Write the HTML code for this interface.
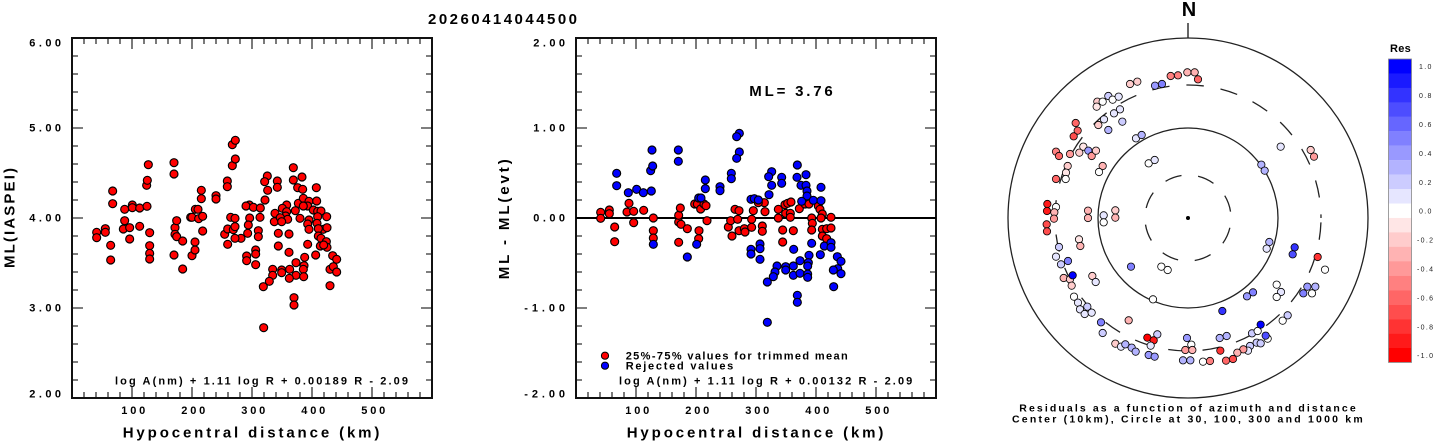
<!DOCTYPE html>
<html><head><meta charset="utf-8">
<style>
html,body{margin:0;padding:0;background:#fff;}
svg{display:block;}
text{font-family:"Liberation Sans",Arial,sans-serif;font-weight:bold;fill:#000;}
.b10{fill:#0000ff}.b9{fill:#1a1aff}.b8{fill:#3333ff}.b7{fill:#4d4dff}.b6{fill:#6666ff}.b5{fill:#8080ff}.b4{fill:#9999ff}.b3{fill:#b3b3ff}.b2{fill:#ccccff}.b1{fill:#e6e6ff}.w{fill:#ffffff}
.r1{fill:#ffe6e6}.r2{fill:#ffcccc}.r3{fill:#ffb3b3}.r4{fill:#ff9999}.r5{fill:#ff8080}.r6{fill:#ff6666}.r7{fill:#ff4d4d}.r8{fill:#ff3333}.r9{fill:#ff1a1a}.r10{fill:#ff0000}
.cl{font-weight:normal;fill:#222;}
</style></head>
<body>
<svg width="1437" height="441" viewBox="0 0 1437 441" xmlns="http://www.w3.org/2000/svg">
<defs>
<g id="axes">
<path d="M72 56h6M72 74h6M72 92h6M72 110h6M72 128h11M72 146h6M72 164h6M72 182h6M72 200h6M72 218h11M72 236h6M72 254h6M72 272h6M72 290h6M72 308h11M72 326h6M72 344h6M72 362h6M72 380h6
M432 56h-6M432 74h-6M432 92h-6M432 110h-6M432 128h-11M432 146h-6M432 164h-6M432 182h-6M432 200h-6M432 218h-11M432 236h-6M432 254h-6M432 272h-6M432 290h-6M432 308h-11M432 326h-6M432 344h-6M432 362h-6M432 380h-6
M84 398v-6M96 398v-6M108 398v-6M120 398v-6M132 398v-11M144 398v-6M156 398v-6M168 398v-6M180 398v-6M192 398v-11M204 398v-6M216 398v-6M228 398v-6M240 398v-6M252 398v-11M264 398v-6M276 398v-6M288 398v-6M300 398v-6M312 398v-11M324 398v-6M336 398v-6M348 398v-6M360 398v-6M372 398v-11M384 398v-6M396 398v-6M408 398v-6M420 398v-6
M84 38v6M96 38v6M108 38v6M120 38v6M132 38v11M144 38v6M156 38v6M168 38v6M180 38v6M192 38v11M204 38v6M216 38v6M228 38v6M240 38v6M252 38v11M264 38v6M276 38v6M288 38v6M300 38v6M312 38v11M324 38v6M336 38v6M348 38v6M360 38v6M372 38v11M384 38v6M396 38v6M408 38v6M420 38v6" stroke="#333" stroke-width="1.3" fill="none"/>
<rect x="72" y="38" width="360" height="360" fill="none" stroke="#111" stroke-width="2"/>
</g>
</defs>

<!-- Title -->
<text x="428" y="24" font-size="15" textLength="149" lengthAdjust="spacing">20260414044500</text>

<!-- LEFT PLOT -->
<use href="#axes"/>
<g font-size="11">
<text x="29.3" y="46.7" textLength="31.7" lengthAdjust="spacing">6.00</text>
<text x="29.3" y="131.7" textLength="31.7" lengthAdjust="spacing">5.00</text>
<text x="29.3" y="221.7" textLength="31.7" lengthAdjust="spacing">4.00</text>
<text x="29.3" y="311.6" textLength="31.7" lengthAdjust="spacing">3.00</text>
<text x="29.3" y="397.7" textLength="31.7" lengthAdjust="spacing">2.00</text>
<text x="121.3" y="414" textLength="24" lengthAdjust="spacing">100</text>
<text x="181.3" y="414" textLength="24" lengthAdjust="spacing">200</text>
<text x="241.3" y="414" textLength="24" lengthAdjust="spacing">300</text>
<text x="301.3" y="414" textLength="24" lengthAdjust="spacing">400</text>
<text x="361.3" y="414" textLength="24" lengthAdjust="spacing">500</text>
<text x="115" y="384.3" textLength="293" lengthAdjust="spacing">log A(nm) + 1.11 log R + 0.00189 R - 2.09</text>
</g>
<text x="122.7" y="437.3" font-size="15" textLength="256.7" lengthAdjust="spacing">Hypocentral distance (km)</text>
<text transform="translate(14.5,268) rotate(-90)" x="0" y="0" font-size="15" textLength="100" lengthAdjust="spacing">ML(IASPEI)</text>

<g transform="scale(0.333333)" fill="#ff0000" stroke="#000" stroke-width="3.4">
<circle cx="290" cy="697" r="12"/><circle cx="290" cy="713" r="12"/><circle cx="316" cy="686" r="12"/><circle cx="316" cy="697" r="12"/><circle cx="332" cy="736" r="12"/><circle cx="332" cy="780" r="12"/><circle cx="338" cy="573" r="12"/><circle cx="338" cy="611" r="12"/><circle cx="370" cy="687" r="12"/><circle cx="374" cy="628" r="12"/><circle cx="374" cy="662" r="12"/><circle cx="389" cy="683" r="12"/><circle cx="389" cy="717" r="12"/><circle cx="397" cy="615" r="12"/><circle cx="397" cy="623" r="12"/><circle cx="419" cy="624" r="12"/><circle cx="419" cy="679" r="12"/><circle cx="440" cy="556" r="12"/><circle cx="442" cy="541" r="12"/><circle cx="445" cy="494" r="12"/><circle cx="441" cy="619" r="12"/><circle cx="449" cy="698" r="12"/><circle cx="449" cy="737" r="12"/><circle cx="449" cy="760" r="12"/><circle cx="449" cy="777" r="12"/><circle cx="522" cy="488" r="12"/><circle cx="522" cy="522" r="12"/><circle cx="525" cy="683" r="12"/><circle cx="525" cy="703" r="12"/><circle cx="522" cy="765" r="12"/><circle cx="530" cy="662" r="12"/><circle cx="530" cy="710" r="12"/><circle cx="548" cy="723" r="12"/><circle cx="548" cy="807" r="12"/><circle cx="572" cy="652" r="12"/><circle cx="576" cy="652" r="12"/><circle cx="576" cy="767" r="12"/><circle cx="585" cy="726" r="12"/><circle cx="585" cy="750" r="12"/><circle cx="586" cy="628" r="12"/><circle cx="594" cy="628" r="12"/><circle cx="596" cy="656" r="12"/><circle cx="604" cy="571" r="12"/><circle cx="604" cy="596" r="12"/><circle cx="608" cy="649" r="12"/><circle cx="608" cy="693" r="12"/><circle cx="648" cy="587" r="12"/><circle cx="648" cy="597" r="12"/><circle cx="674" cy="703" r="12"/><circle cx="683" cy="687" r="12"/><circle cx="683" cy="733" r="12"/><circle cx="682" cy="543" r="12"/><circle cx="682" cy="560" r="12"/><circle cx="692" cy="652" r="12"/><circle cx="700" cy="689" r="12"/><circle cx="697" cy="497" r="12"/><circle cx="697" cy="434" r="12"/><circle cx="706" cy="421" r="12"/><circle cx="706" cy="477" r="12"/>
<circle cx="880" cy="503" r="12"/><circle cx="802" cy="528" r="12"/><circle cx="794" cy="545" r="12"/><circle cx="832" cy="543" r="12"/><circle cx="832" cy="562" r="12"/><circle cx="880" cy="540" r="12"/><circle cx="906" cy="531" r="12"/><circle cx="893" cy="563" r="12"/><circle cx="908" cy="568" r="12"/><circle cx="949" cy="563" r="12"/><circle cx="803" cy="571" r="12"/><circle cx="795" cy="600" r="12"/><circle cx="748" cy="615" r="12"/><circle cx="738" cy="618" r="12"/><circle cx="760" cy="622" r="12"/><circle cx="781" cy="624" r="12"/><circle cx="860" cy="615" r="12"/><circle cx="847" cy="625" r="12"/><circle cx="895" cy="610" r="12"/><circle cx="910" cy="595" r="12"/><circle cx="927" cy="604" r="12"/><circle cx="950" cy="603" r="12"/><circle cx="923" cy="618" r="12"/><circle cx="910" cy="618" r="12"/><circle cx="940" cy="630" r="12"/><circle cx="953" cy="634" r="12"/><circle cx="963" cy="633" r="12"/><circle cx="780" cy="652" r="12"/><circle cx="749" cy="654" r="12"/><circle cx="825" cy="640" r="12"/><circle cx="823" cy="665" r="12"/><circle cx="860" cy="635" r="12"/><circle cx="857" cy="648" r="12"/><circle cx="841" cy="653" r="12"/><circle cx="863" cy="658" r="12"/><circle cx="845" cy="665" r="12"/><circle cx="886" cy="632" r="12"/><circle cx="900" cy="655" r="12"/><circle cx="927" cy="660" r="12"/><circle cx="953" cy="650" r="12"/><circle cx="951" cy="670" r="12"/><circle cx="980" cy="650" r="12"/><circle cx="745" cy="675" r="12"/><circle cx="923" cy="672" r="12"/><circle cx="927" cy="688" r="12"/><circle cx="970" cy="688" r="12"/><circle cx="981" cy="683" r="12"/><circle cx="955" cy="686" r="12"/><circle cx="705" cy="655" r="12"/><circle cx="705" cy="680" r="12"/><circle cx="723" cy="715" r="12"/><circle cx="705" cy="715" r="12"/><circle cx="743" cy="700" r="12"/><circle cx="775" cy="692" r="12"/><circle cx="775" cy="710" r="12"/><circle cx="835" cy="700" r="12"/><circle cx="867" cy="702" r="12"/><circle cx="955" cy="708" r="12"/><circle cx="963" cy="715" r="12"/><circle cx="979" cy="725" r="12"/><circle cx="981" cy="742" r="12"/><circle cx="961" cy="738" r="12"/><circle cx="971" cy="735" r="12"/><circle cx="923" cy="733" r="12"/><circle cx="835" cy="738" r="12"/><circle cx="767" cy="750" r="12"/><circle cx="767" cy="762" r="12"/><circle cx="867" cy="757" r="12"/><circle cx="947" cy="765" r="12"/><circle cx="998" cy="767" r="12"/><circle cx="1010" cy="778" r="12"/><circle cx="740" cy="768" r="12"/><circle cx="740" cy="782" r="12"/><circle cx="914" cy="772" r="12"/><circle cx="888" cy="788" r="12"/><circle cx="767" cy="794" r="12"/><circle cx="912" cy="797" r="12"/><circle cx="910" cy="808" r="12"/><circle cx="818" cy="808" r="12"/><circle cx="845" cy="810" r="12"/><circle cx="869" cy="808" r="12"/><circle cx="818" cy="826" r="12"/><circle cx="845" cy="818" r="12"/><circle cx="888" cy="826" r="12"/><circle cx="868" cy="835" r="12"/><circle cx="911" cy="830" r="12"/><circle cx="990" cy="808" r="12"/><circle cx="1000" cy="800" r="12"/><circle cx="1010" cy="816" r="12"/><circle cx="808" cy="844" r="12"/><circle cx="790" cy="860" r="12"/><circle cx="990" cy="857" r="12"/><circle cx="882" cy="893" r="12"/><circle cx="882" cy="915" r="12"/><circle cx="791" cy="983" r="12"/>
</g>

<!-- MIDDLE PLOT -->
<use href="#axes" transform="translate(504,0)"/>
<line x1="576" y1="218" x2="936" y2="218" stroke="#000" stroke-width="2"/>
<g font-size="11">
<text x="533.3" y="46.7" textLength="31.7" lengthAdjust="spacing">2.00</text>
<text x="533.3" y="131.7" textLength="31.7" lengthAdjust="spacing">1.00</text>
<text x="533.3" y="221.7" textLength="31.7" lengthAdjust="spacing">0.00</text>
<text x="524.3" y="311.6" textLength="40.7" lengthAdjust="spacing">-1.00</text>
<text x="524.3" y="397.7" textLength="40.7" lengthAdjust="spacing">-2.00</text>
<text x="625.3" y="414" textLength="24" lengthAdjust="spacing">100</text>
<text x="685.3" y="414" textLength="24" lengthAdjust="spacing">200</text>
<text x="745.3" y="414" textLength="24" lengthAdjust="spacing">300</text>
<text x="805.3" y="414" textLength="24" lengthAdjust="spacing">400</text>
<text x="865.3" y="414" textLength="24" lengthAdjust="spacing">500</text>
<text x="619" y="384.3" textLength="293.3" lengthAdjust="spacing">log A(nm) + 1.11 log R + 0.00132 R - 2.09</text>
<text x="625.7" y="359.3" textLength="222" lengthAdjust="spacing">25%-75% values for trimmed mean</text>
<text x="625.7" y="369.3" textLength="107.6" lengthAdjust="spacing">Rejected values</text>
</g>
<circle cx="605" cy="355.7" r="3.6" fill="#ff0000" stroke="#000" stroke-width="1"/>
<circle cx="605" cy="365.7" r="3.6" fill="#0000ff" stroke="#000" stroke-width="1"/>
<text x="749.3" y="96" font-size="15" textLength="83.4" lengthAdjust="spacing">ML= 3.76</text>
<text x="626.7" y="437.3" font-size="15" textLength="256.7" lengthAdjust="spacing">Hypocentral distance (km)</text>
<text transform="translate(509,279.3) rotate(-90)" x="0" y="0" font-size="15" textLength="120" lengthAdjust="spacing">ML - ML(evt)</text>

<g transform="translate(480,0) scale(0.333333)" stroke="#000" stroke-width="3.4">
<g fill="#ff0000">
<circle cx="362" cy="637" r="12"/><circle cx="362" cy="655" r="12"/><circle cx="388" cy="630" r="12"/><circle cx="388" cy="641" r="12"/><circle cx="404" cy="681" r="12"/><circle cx="404" cy="725" r="12"/><circle cx="441" cy="636" r="12"/><circle cx="447" cy="610" r="12"/><circle cx="461" cy="634" r="12"/><circle cx="461" cy="668" r="12"/><circle cx="491" cy="631" r="12"/><circle cx="520" cy="654" r="12"/><circle cx="520" cy="692" r="12"/><circle cx="520" cy="714" r="12"/><circle cx="596" cy="666" r="12"/><circle cx="596" cy="646" r="12"/><circle cx="596" cy="727" r="12"/><circle cx="601" cy="624" r="12"/><circle cx="603" cy="673" r="12"/><circle cx="622" cy="686" r="12"/><circle cx="644" cy="612" r="12"/><circle cx="652" cy="612" r="12"/><circle cx="656" cy="716" r="12"/><circle cx="657" cy="692" r="12"/><circle cx="662" cy="627" r="12"/><circle cx="672" cy="612" r="12"/><circle cx="678" cy="617" r="12"/><circle cx="681" cy="662" r="12"/><circle cx="745" cy="681" r="12"/><circle cx="752" cy="662" r="12"/><circle cx="756" cy="708" r="12"/>
<circle cx="765" cy="628" r="12"/><circle cx="777" cy="632" r="12"/><circle cx="773" cy="658" r="12"/><circle cx="777" cy="692" r="12"/><circle cx="793" cy="686" r="12"/><circle cx="795" cy="696" r="12"/><circle cx="815" cy="658" r="12"/><circle cx="815" cy="682" r="12"/><circle cx="820" cy="632" r="12"/><circle cx="847" cy="678" r="12"/><circle cx="847" cy="694" r="12"/><circle cx="853" cy="608" r="12"/><circle cx="855" cy="635" r="12"/><circle cx="835" cy="608" r="12"/><circle cx="895" cy="628" r="12"/><circle cx="895" cy="654" r="12"/><circle cx="908" cy="690" r="12"/><circle cx="908" cy="726" r="12"/><circle cx="915" cy="614" r="12"/><circle cx="923" cy="610" r="12"/><circle cx="933" cy="606" r="12"/><circle cx="917" cy="640" r="12"/><circle cx="931" cy="640" r="12"/><circle cx="931" cy="652" r="12"/><circle cx="940" cy="692" r="12"/><circle cx="958" cy="626" r="12"/><circle cx="975" cy="612" r="12"/><circle cx="987" cy="612" r="12"/><circle cx="995" cy="654" r="12"/><circle cx="997" cy="670" r="12"/><circle cx="995" cy="690" r="12"/><circle cx="1015" cy="618" r="12"/><circle cx="1020" cy="628" r="12"/><circle cx="1027" cy="642" r="12"/><circle cx="1023" cy="654" r="12"/><circle cx="1053" cy="652" r="12"/><circle cx="1027" cy="688" r="12"/><circle cx="1040" cy="686" r="12"/><circle cx="1053" cy="684" r="12"/><circle cx="1027" cy="708" r="12"/><circle cx="1040" cy="716" r="12"/>
</g>
<g fill="#0000ff">
<circle cx="410" cy="520" r="12"/><circle cx="410" cy="557" r="12"/><circle cx="445" cy="578" r="12"/><circle cx="470" cy="568" r="12"/><circle cx="490" cy="578" r="12"/><circle cx="514" cy="573" r="12"/><circle cx="512" cy="512" r="12"/><circle cx="516" cy="450" r="12"/><circle cx="518" cy="498" r="12"/><circle cx="520" cy="733" r="12"/><circle cx="595" cy="450" r="12"/><circle cx="595" cy="484" r="12"/><circle cx="622" cy="771" r="12"/><circle cx="650" cy="733" r="12"/><circle cx="656" cy="594" r="12"/><circle cx="663" cy="594" r="12"/><circle cx="676" cy="540" r="12"/><circle cx="676" cy="566" r="12"/><circle cx="720" cy="560" r="12"/><circle cx="720" cy="572" r="12"/><circle cx="754" cy="520" r="12"/><circle cx="754" cy="536" r="12"/><circle cx="778" cy="400" r="12"/><circle cx="770" cy="410" r="12"/><circle cx="778" cy="456" r="12"/><circle cx="770" cy="475" r="12"/>
<circle cx="952" cy="495" r="12"/><circle cx="875" cy="515" r="12"/><circle cx="866" cy="530" r="12"/><circle cx="905" cy="532" r="12"/><circle cx="905" cy="550" r="12"/><circle cx="951" cy="532" r="12"/><circle cx="978" cy="524" r="12"/><circle cx="875" cy="556" r="12"/><circle cx="963" cy="556" r="12"/><circle cx="978" cy="556" r="12"/><circle cx="1023" cy="562" r="12"/><circle cx="867" cy="584" r="12"/><circle cx="981" cy="573" r="12"/><circle cx="981" cy="588" r="12"/><circle cx="813" cy="598" r="12"/><circle cx="823" cy="596" r="12"/><circle cx="835" cy="600" r="12"/><circle cx="1000" cy="601" r="12"/><circle cx="965" cy="604" r="12"/><circle cx="1023" cy="602" r="12"/><circle cx="813" cy="748" r="12"/><circle cx="813" cy="762" r="12"/><circle cx="840" cy="732" r="12"/><circle cx="840" cy="746" r="12"/><circle cx="840" cy="778" r="12"/><circle cx="941" cy="748" r="12"/><circle cx="995" cy="730" r="12"/><circle cx="1033" cy="738" r="12"/><circle cx="1053" cy="728" r="12"/><circle cx="1053" cy="742" r="12"/><circle cx="1021" cy="764" r="12"/><circle cx="987" cy="766" r="12"/><circle cx="960" cy="782" r="12"/><circle cx="985" cy="788" r="12"/><circle cx="983" cy="798" r="12"/><circle cx="1072" cy="770" r="12"/><circle cx="1083" cy="784" r="12"/><circle cx="1073" cy="806" r="12"/><circle cx="1060" cy="810" r="12"/><circle cx="1083" cy="821" r="12"/><circle cx="1061" cy="860" r="12"/><circle cx="891" cy="798" r="12"/><circle cx="885" cy="816" r="12"/><circle cx="880" cy="830" r="12"/><circle cx="917" cy="800" r="12"/><circle cx="940" cy="798" r="12"/><circle cx="917" cy="810" r="12"/><circle cx="940" cy="826" r="12"/><circle cx="960" cy="820" r="12"/><circle cx="983" cy="822" r="12"/><circle cx="983" cy="832" r="12"/><circle cx="862" cy="846" r="12"/><circle cx="952" cy="886" r="12"/><circle cx="952" cy="907" r="12"/><circle cx="862" cy="967" r="12"/>
</g>
</g>

<!-- POLAR PLOT -->
<text x="1189" y="16" font-size="20" text-anchor="middle">N</text>
<line x1="1188" y1="23" x2="1188" y2="38" stroke="#333" stroke-width="1.5"/>
<g fill="none" stroke="#222" stroke-width="1.3">
<circle cx="1188" cy="218" r="180"/>
<circle cx="1188" cy="218" r="90"/>
<circle cx="1188" cy="218" r="133" stroke-dasharray="17.5 16.97" stroke-dashoffset="-4.4"/>
<circle cx="1188" cy="218" r="43" stroke-dasharray="17 16.77" stroke-dashoffset="-9.9"/>
</g>
<circle cx="1188" cy="218" r="2" fill="#000"/>

<g transform="translate(990,0) scale(0.333333)" stroke="#000" stroke-width="2.4">
<circle cx="542" cy="228" r="11" class="r5"/><circle cx="564" cy="226" r="11" class="r5"/><circle cx="592" cy="217" r="11" class="r3"/><circle cx="614" cy="217" r="11" class="r3"/><circle cx="624" cy="238" r="11" class="r6"/>
<circle cx="420" cy="252" r="11" class="r2"/><circle cx="442" cy="245" r="11" class="r2"/>
<circle cx="495" cy="257" r="11" class="b4"/><circle cx="516" cy="252" r="11" class="b5"/>
<circle cx="322" cy="305" r="11" class="r2"/><circle cx="338" cy="305" r="11" class="w"/><circle cx="355" cy="288" r="11" class="b2"/><circle cx="368" cy="299" r="11" class="w"/><circle cx="386" cy="290" r="11" class="b1"/><circle cx="320" cy="320" r="11" class="r1"/>
<circle cx="390" cy="328" r="11" class="b1"/><circle cx="372" cy="340" r="11" class="b1"/><circle cx="342" cy="358" r="11" class="b1"/><circle cx="325" cy="375" r="11" class="r2"/><circle cx="355" cy="390" r="11" class="b3"/><circle cx="397" cy="365" r="11" class="b2"/>
<circle cx="257" cy="369" r="11" class="r6"/><circle cx="263" cy="392" r="11" class="r6"/><circle cx="251" cy="409" r="11" class="r7"/>
<circle cx="438" cy="415" r="11" class="b1"/><circle cx="455" cy="405" r="11" class="b3"/>
<circle cx="198" cy="455" r="11" class="r5"/><circle cx="207" cy="468" r="11" class="r6"/><circle cx="240" cy="462" r="11" class="r4"/><circle cx="268" cy="458" r="11" class="r2"/><circle cx="280" cy="440" r="11" class="r1"/><circle cx="295" cy="452" r="11" class="b4"/><circle cx="305" cy="468" r="11" class="r4"/><circle cx="318" cy="452" r="11" class="r2"/>
<circle cx="233" cy="498" r="11" class="r2"/><circle cx="228" cy="518" r="11" class="r1"/><circle cx="198" cy="537" r="11" class="r6"/><circle cx="227" cy="537" r="11" class="w"/><circle cx="338" cy="498" r="11" class="r3"/><circle cx="327" cy="516" r="11" class="w"/>
<circle cx="476" cy="490" r="11" class="w"/><circle cx="494" cy="480" r="11" class="b1"/>
<circle cx="872" cy="440" r="11" class="b1"/>
<circle cx="962" cy="450" r="11" class="r2"/><circle cx="972" cy="470" r="11" class="r4"/>
<circle cx="814" cy="494" r="11" class="b3"/><circle cx="824" cy="512" r="11" class="b3"/>
<circle cx="172" cy="612" r="11" class="r9"/><circle cx="171" cy="633" r="11" class="r9"/><circle cx="198" cy="621" r="11" class="w"/><circle cx="193" cy="637" r="11" class="r3"/><circle cx="192" cy="656" r="11" class="r4"/><circle cx="170" cy="673" r="11" class="r7"/><circle cx="171" cy="694" r="11" class="r7"/>
<circle cx="294" cy="632" r="11" class="r3"/><circle cx="294" cy="654" r="11" class="r3"/><circle cx="341" cy="646" r="11" class="b1"/><circle cx="341" cy="667" r="11" class="w"/><circle cx="376" cy="631" r="11" class="r2"/><circle cx="376" cy="653" r="11" class="r3"/>
<circle cx="267" cy="718" r="11" class="r1"/><circle cx="271" cy="738" r="11" class="r3"/>
<circle cx="207" cy="741" r="11" class="b2"/><circle cx="198" cy="770" r="11" class="b1"/><circle cx="213" cy="793" r="11" class="b2"/><circle cx="234" cy="783" r="11" class="b5"/><circle cx="221" cy="834" r="11" class="r3"/><circle cx="240" cy="838" r="11" class="r2"/><circle cx="245" cy="857" r="11" class="r2"/><circle cx="248" cy="826" r="11" class="b10"/>
<circle cx="307" cy="828" r="11" class="r2"/><circle cx="317" cy="846" r="11" class="b1"/>
<circle cx="423" cy="800" r="11" class="b5"/>
<circle cx="514" cy="800" r="11" class="w"/><circle cx="533" cy="810" r="11" class="w"/>
<circle cx="838" cy="726" r="11" class="b3"/><circle cx="830" cy="746" r="11" class="b1"/>
<circle cx="914" cy="742" r="11" class="b8"/><circle cx="908" cy="763" r="11" class="b7"/>
<circle cx="983" cy="771" r="11" class="r8"/>
<circle cx="1005" cy="809" r="11" class="w"/>
<circle cx="860" cy="854" r="11" class="w"/><circle cx="873" cy="876" r="11" class="b1"/><circle cx="860" cy="891" r="11" class="w"/>
<circle cx="952" cy="860" r="11" class="b4"/><circle cx="976" cy="860" r="11" class="b3"/><circle cx="940" cy="880" r="11" class="b5"/><circle cx="966" cy="880" r="11" class="w"/>
<circle cx="789" cy="877" r="11" class="b5"/><circle cx="771" cy="889" r="11" class="b4"/>
<circle cx="489" cy="898" r="11" class="w"/>
<circle cx="252" cy="890" r="11" class="w"/><circle cx="264" cy="908" r="11" class="b1"/><circle cx="270" cy="928" r="11" class="b1"/><circle cx="292" cy="920" r="11" class="b2"/><circle cx="284" cy="942" r="11" class="b1"/><circle cx="305" cy="938" r="11" class="b1"/>
<circle cx="697" cy="933" r="11" class="b8"/>
<circle cx="893" cy="946" r="11" class="b2"/><circle cx="878" cy="962" r="11" class="w"/>
<circle cx="416" cy="961" r="11" class="r3"/>
<circle cx="333" cy="967" r="11" class="b5"/><circle cx="338" cy="999" r="11" class="b2"/>
<circle cx="786" cy="1000" r="11" class="b2"/><circle cx="803" cy="993" r="11" class="w"/><circle cx="833" cy="1016" r="11" class="w"/><circle cx="827" cy="1007" r="11" class="b7"/><circle cx="812" cy="974" r="11" class="b10"/><circle cx="800" cy="1028" r="11" class="b2"/><circle cx="812" cy="1030" r="11" class="b2"/><circle cx="780" cy="1038" r="11" class="b2"/><circle cx="774" cy="1052" r="11" class="b1"/><circle cx="760" cy="1048" r="11" class="r4"/><circle cx="742" cy="1058" r="11" class="r3"/><circle cx="729" cy="1077" r="11" class="r7"/><circle cx="708" cy="1082" r="11" class="r6"/>
<circle cx="502" cy="1003" r="11" class="b2"/><circle cx="472" cy="1013" r="11" class="r10"/><circle cx="491" cy="1021" r="11" class="r9"/><circle cx="482" cy="1037" r="11" class="b1"/><circle cx="476" cy="1065" r="11" class="b4"/><circle cx="494" cy="1070" r="11" class="b4"/>
<circle cx="376" cy="1031" r="11" class="r2"/><circle cx="393" cy="1040" r="11" class="b1"/><circle cx="406" cy="1033" r="11" class="b3"/><circle cx="425" cy="1043" r="11" class="b3"/><circle cx="437" cy="1055" r="11" class="b3"/>
<circle cx="591" cy="1014" r="11" class="b4"/><circle cx="604" cy="1034" r="11" class="w"/><circle cx="586" cy="1050" r="11" class="r4"/><circle cx="607" cy="1050" r="11" class="r3"/>
<circle cx="579" cy="1081" r="11" class="b3"/><circle cx="601" cy="1081" r="11" class="b3"/><circle cx="639" cy="1085" r="11" class="w"/><circle cx="660" cy="1083" r="11" class="r5"/>
<circle cx="691" cy="1052" r="11" class="r8"/>
<circle cx="689" cy="1014" r="11" class="b3"/><circle cx="710" cy="1008" r="11" class="b3"/>
</g>

<g font-size="10.5">
<text x="1019.3" y="411.7" textLength="336.4" lengthAdjust="spacing">Residuals as a function of azimuth and distance</text>
<text x="1012" y="422.7" textLength="350.7" lengthAdjust="spacing">Center (10km), Circle at 30, 100, 300 and 1000 km</text>
</g>

<!-- COLORBAR -->
<text x="1390" y="52" font-size="11" textLength="20.7" lengthAdjust="spacing">Res</text>
<g stroke="none">
<rect x="1388.5" y="59" width="23" height="14.6" class="b10"/>
<rect x="1388.5" y="73.45" width="23" height="14.6" class="b9"/>
<rect x="1388.5" y="87.9" width="23" height="14.6" class="b8"/>
<rect x="1388.5" y="102.35" width="23" height="14.6" class="b7"/>
<rect x="1388.5" y="116.8" width="23" height="14.6" class="b6"/>
<rect x="1388.5" y="131.25" width="23" height="14.6" class="b5"/>
<rect x="1388.5" y="145.7" width="23" height="14.6" class="b4"/>
<rect x="1388.5" y="160.15" width="23" height="14.6" class="b3"/>
<rect x="1388.5" y="174.6" width="23" height="14.6" class="b2"/>
<rect x="1388.5" y="189.05" width="23" height="14.6" class="b1"/>
<rect x="1388.5" y="203.5" width="23" height="14.6" class="w"/>
<rect x="1388.5" y="217.95" width="23" height="14.6" class="r1"/>
<rect x="1388.5" y="232.4" width="23" height="14.6" class="r2"/>
<rect x="1388.5" y="246.85" width="23" height="14.6" class="r3"/>
<rect x="1388.5" y="261.3" width="23" height="14.6" class="r4"/>
<rect x="1388.5" y="275.75" width="23" height="14.6" class="r5"/>
<rect x="1388.5" y="290.2" width="23" height="14.6" class="r6"/>
<rect x="1388.5" y="304.65" width="23" height="14.6" class="r7"/>
<rect x="1388.5" y="319.1" width="23" height="14.6" class="r8"/>
<rect x="1388.5" y="333.55" width="23" height="14.6" class="r9"/>
<rect x="1388.5" y="348" width="23" height="14.45" class="r10"/>
</g>
<rect x="1388.5" y="59" width="23" height="303.45" fill="none" stroke="#888" stroke-width="0.8"/>
<g font-size="7" class="cl" letter-spacing="1.3">
<text class="cl" x="1419" y="69.2">1.0</text>
<text class="cl" x="1419" y="98.1">0.8</text>
<text class="cl" x="1419" y="127">0.6</text>
<text class="cl" x="1419" y="155.9">0.4</text>
<text class="cl" x="1419" y="184.8">0.2</text>
<text class="cl" x="1419" y="213.7">0.0</text>
<text class="cl" x="1417" y="242.6">-0.2</text>
<text class="cl" x="1417" y="271.5">-0.4</text>
<text class="cl" x="1417" y="300.4">-0.6</text>
<text class="cl" x="1417" y="329.3">-0.8</text>
<text class="cl" x="1417" y="358.2">-1.0</text>
</g>
</svg>
</body></html>
